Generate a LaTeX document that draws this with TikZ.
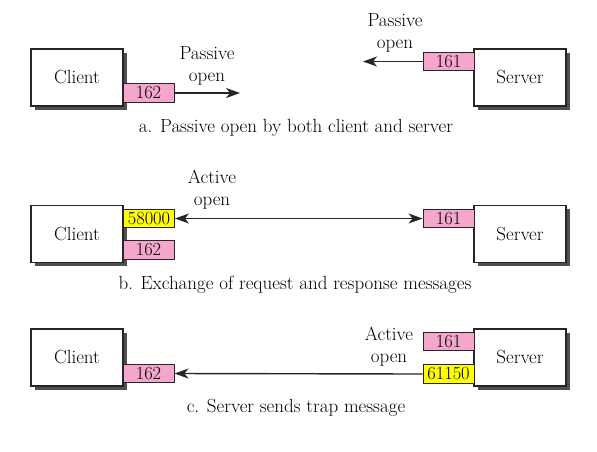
\documentclass[tikz,border=0pt]{standalone}
\usetikzlibrary{arrows.meta,shadows}
\definecolor{portpink}{RGB}{244,166,204}
\definecolor{portyellow}{RGB}{255,255,0}
\definecolor{shadowgray}{RGB}{80,80,80}
\tikzset{
  host/.style={draw=black!85, line width=1.2pt, fill=white, minimum width=92pt, minimum height=57pt, inner sep=0pt,
    font=\rmfamily\fontsize{19}{22}\selectfont,
    drop shadow={shadow xshift=3.5pt, shadow yshift=-3.5pt, fill=shadowgray, opacity=1}},
  port/.style={draw=black!85, line width=0.9pt, minimum width=51pt, minimum height=18.5pt, inner sep=0pt,
    font=\rmfamily\fontsize{18.5}{20}\selectfont},
  pinkport/.style={port, fill=portpink},
  yellowport/.style={port, fill=portyellow},
  lbl/.style={align=center, font=\rmfamily\fontsize{19}{22}\selectfont, inner sep=0pt},
  captext/.style={font=\rmfamily\fontsize{19}{22}\selectfont, inner sep=0pt},
  conn/.style={line width=1.4pt, draw=black!85},
  arr/.style={-{Stealth[length=14pt,width=10pt,inset=4pt]}}
}
\begin{document}
\begin{tikzpicture}[x=1pt,y=-1pt]
\useasboundingbox (0,0) rectangle (597,451);
% ---- part a
\node[host] (ca) at (77,77.5) {Client};
\node[pinkport] (pa162) at (148.5,93) {162};
\coordinate (aend) at (240,93);
\draw[conn,arr] (pa162.east) -- (aend);
\node[lbl] (la1) at (207,66) {Passive\\open};
\node[host] (sa) at (520,77.5) {Server};
\node[pinkport] (pa161) at (448.5,61.5) {161};
\coordinate (aend2) at (363,61.5);
\draw[conn,arr] (pa161.west) -- (aend2);
\node[lbl] (la2) at (395,33) {Passive\\open};
\node[captext] (capa) at (296,128) {a. Passive open by both client and server};
% ---- part b
\node[host] (cb) at (77,234) {Client};
\node[yellowport] (pb58) at (149,218.5) {58000};
\node[pinkport] (pb162) at (148.5,250) {162};
\node[host] (sb) at (520,234) {Server};
\node[pinkport] (pb161) at (448.5,218.5) {161};
\draw[conn,{Stealth[length=14pt,width=10pt,inset=4pt]}-{Stealth[length=14pt,width=10pt,inset=4pt]}] (pb58.east) -- (pb161.west);
\node[lbl] (lb) at (212,190) {Active\\open};
\node[captext] (capb) at (295,285) {b. Exchange of request and response messages};
% ---- part c
\node[host] (cc) at (77,357.5) {Client};
\node[pinkport] (pc162) at (148.5,373.5) {162};
\node[host] (sc) at (520,357.5) {Server};
\node[pinkport] (pc161) at (448.5,341.5) {161};
\node[yellowport] (pc611) at (448.5,374) {61150};
\draw[conn,arr] (pc611.west) -- (pc162.east);
\node[lbl] (lc) at (389,347) {Active\\open};
\node[captext] (capc) at (296,408) {c. Server sends trap message};
\end{tikzpicture}
\end{document}
